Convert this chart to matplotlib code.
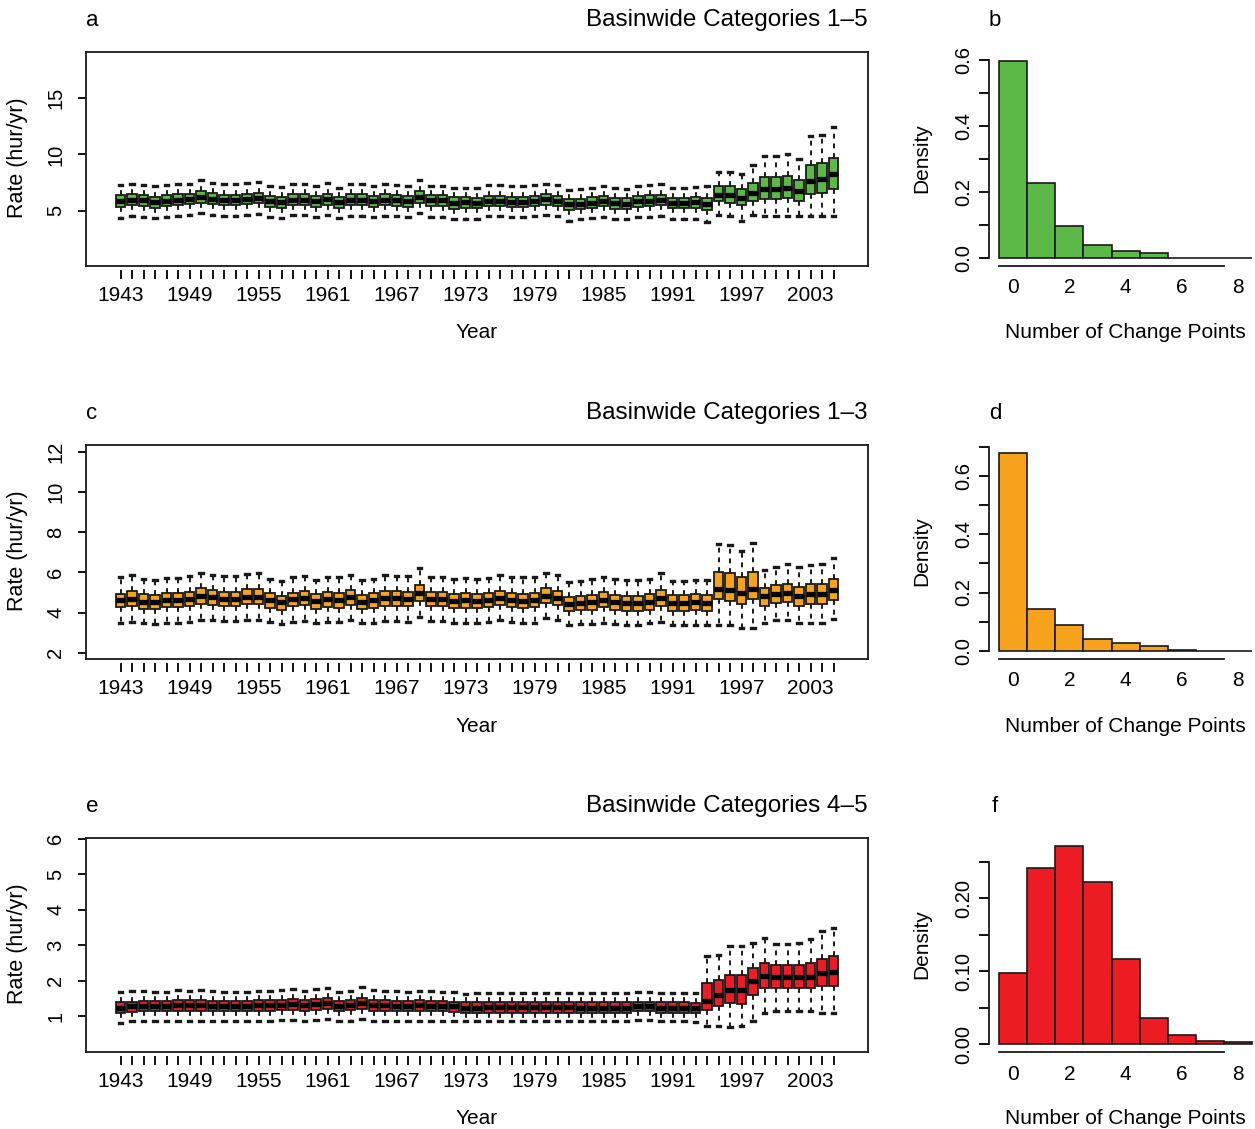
import matplotlib.pyplot as plt
import numpy as np

plt.rcParams['font.family'] = ['Liberation Sans', 'DejaVu Sans']
plt.rcParams['font.size'] = 14

# years of the box plots
years = list(range(1943, 2006))

# panel a: basinwide categories 1-5 (whisker low, q1, median, q3, whisker high)
a_lo = [4.41, 4.56, 4.50, 4.38, 4.50, 4.56, 4.62, 4.79, 4.65, 4.56, 4.56, 4.65, 4.71, 4.47, 4.41, 4.62,
        4.62, 4.44, 4.62, 4.41, 4.56, 4.56, 4.47, 4.56, 4.56, 4.47, 4.79, 4.47, 4.47, 4.26, 4.32, 4.32,
        4.56, 4.56, 4.50, 4.50, 4.56, 4.68, 4.56, 4.15, 4.26, 4.35, 4.50, 4.26, 4.26, 4.47, 4.47, 4.56,
        4.32, 4.32, 4.26, 4.03, 4.65, 4.56, 4.12, 4.62, 4.56, 4.56, 4.56, 4.56, 4.56, 4.56, 4.56]
a_q1 = [5.38, 5.53, 5.47, 5.29, 5.44, 5.50, 5.59, 5.74, 5.62, 5.50, 5.50, 5.59, 5.68, 5.38, 5.29, 5.50,
        5.50, 5.35, 5.53, 5.29, 5.50, 5.50, 5.35, 5.53, 5.47, 5.38, 5.74, 5.44, 5.44, 5.21, 5.29, 5.24,
        5.44, 5.44, 5.38, 5.38, 5.44, 5.56, 5.44, 5.09, 5.15, 5.29, 5.44, 5.21, 5.15, 5.38, 5.44, 5.50,
        5.24, 5.24, 5.29, 5.09, 5.88, 5.74, 5.53, 5.88, 6.09, 6.09, 6.12, 5.88, 6.47, 6.62, 6.91]
a_med = [5.85, 6.00, 5.94, 5.79, 5.91, 6.00, 6.06, 6.26, 6.09, 5.97, 5.97, 6.06, 6.15, 5.88, 5.79, 6.00,
         6.00, 5.85, 6.03, 5.76, 6.00, 6.00, 5.85, 6.00, 5.94, 5.85, 6.26, 5.94, 5.94, 5.74, 5.76, 5.74,
         5.85, 5.85, 5.79, 5.79, 5.88, 6.03, 5.85, 5.59, 5.62, 5.74, 5.85, 5.68, 5.62, 5.85, 5.91, 5.97,
         5.71, 5.71, 5.76, 5.62, 6.44, 6.38, 6.18, 6.56, 6.91, 6.91, 7.00, 6.76, 7.65, 7.79, 8.24]
a_q3 = [6.38, 6.47, 6.41, 6.26, 6.41, 6.47, 6.53, 6.76, 6.56, 6.44, 6.44, 6.53, 6.62, 6.35, 6.26, 6.47,
        6.47, 6.32, 6.53, 6.24, 6.47, 6.47, 6.32, 6.47, 6.41, 6.32, 6.76, 6.41, 6.41, 6.24, 6.24, 6.18,
        6.32, 6.32, 6.26, 6.26, 6.32, 6.50, 6.32, 6.09, 6.09, 6.21, 6.32, 6.15, 6.12, 6.32, 6.38, 6.44,
        6.18, 6.18, 6.26, 6.12, 7.21, 7.21, 6.91, 7.44, 8.03, 8.03, 8.09, 7.74, 9.06, 9.26, 9.71]
a_hi = [7.29, 7.41, 7.29, 7.18, 7.29, 7.38, 7.41, 7.71, 7.50, 7.35, 7.35, 7.44, 7.53, 7.24, 7.15, 7.38,
        7.38, 7.24, 7.44, 7.06, 7.38, 7.38, 7.24, 7.38, 7.32, 7.24, 7.74, 7.24, 7.24, 7.03, 7.03, 7.03,
        7.29, 7.29, 7.21, 7.21, 7.29, 7.41, 7.29, 6.85, 6.91, 7.06, 7.21, 7.00, 6.91, 7.21, 7.29, 7.35,
        7.06, 7.06, 7.15, 7.18, 8.44, 8.44, 8.26, 9.03, 9.91, 9.91, 10.00, 9.62, 11.62, 11.76, 12.44]

# panel c: basinwide categories 1-3
c_lo = [3.49, 3.54, 3.46, 3.43, 3.49, 3.49, 3.54, 3.62, 3.62, 3.59, 3.59, 3.62, 3.62, 3.51, 3.43, 3.53,
        3.58, 3.46, 3.51, 3.51, 3.62, 3.46, 3.49, 3.59, 3.58, 3.54, 3.76, 3.59, 3.59, 3.49, 3.49, 3.49,
        3.54, 3.62, 3.54, 3.49, 3.49, 3.71, 3.62, 3.38, 3.41, 3.43, 3.49, 3.43, 3.38, 3.38, 3.46, 3.54,
        3.38, 3.38, 3.38, 3.38, 3.38, 3.38, 3.21, 3.21, 3.49, 3.62, 3.62, 3.46, 3.49, 3.49, 3.67]
c_q1 = [4.29, 4.34, 4.20, 4.17, 4.29, 4.29, 4.32, 4.42, 4.37, 4.32, 4.32, 4.42, 4.42, 4.25, 4.15, 4.32,
        4.37, 4.20, 4.29, 4.25, 4.37, 4.20, 4.25, 4.34, 4.34, 4.32, 4.57, 4.34, 4.34, 4.25, 4.25, 4.24,
        4.29, 4.37, 4.29, 4.25, 4.29, 4.45, 4.37, 4.09, 4.12, 4.15, 4.29, 4.15, 4.09, 4.09, 4.15, 4.32,
        4.09, 4.09, 4.12, 4.09, 4.65, 4.59, 4.42, 4.65, 4.34, 4.49, 4.50, 4.34, 4.42, 4.42, 4.62]
c_med = [4.60, 4.65, 4.54, 4.50, 4.64, 4.64, 4.67, 4.82, 4.75, 4.67, 4.67, 4.79, 4.79, 4.60, 4.50, 4.65,
         4.74, 4.55, 4.65, 4.60, 4.75, 4.54, 4.60, 4.72, 4.72, 4.69, 4.95, 4.69, 4.69, 4.59, 4.60, 4.57,
         4.62, 4.72, 4.62, 4.59, 4.62, 4.84, 4.74, 4.44, 4.49, 4.52, 4.64, 4.52, 4.45, 4.45, 4.54, 4.72,
         4.49, 4.49, 4.52, 4.49, 5.17, 5.12, 4.95, 5.17, 4.82, 4.92, 4.95, 4.82, 4.92, 4.92, 5.12]
c_q3 = [4.92, 5.08, 4.92, 4.87, 4.98, 4.98, 5.03, 5.20, 5.12, 5.03, 5.03, 5.15, 5.15, 4.95, 4.84, 4.98,
        5.08, 4.90, 5.00, 4.95, 5.12, 4.87, 4.95, 5.08, 5.08, 5.03, 5.37, 5.03, 5.03, 4.92, 4.95, 4.92,
        4.95, 5.08, 4.95, 4.92, 4.95, 5.20, 5.08, 4.79, 4.84, 4.87, 5.00, 4.87, 4.84, 4.84, 4.92, 5.12,
        4.87, 4.87, 4.90, 4.87, 6.00, 5.95, 5.75, 6.03, 5.20, 5.37, 5.42, 5.28, 5.42, 5.42, 5.65]
c_hi = [5.78, 5.86, 5.65, 5.62, 5.73, 5.73, 5.81, 5.98, 5.86, 5.81, 5.81, 5.90, 5.95, 5.65, 5.57, 5.78,
        5.83, 5.62, 5.78, 5.75, 5.86, 5.62, 5.65, 5.86, 5.81, 5.81, 6.20, 5.78, 5.78, 5.65, 5.70, 5.65,
        5.73, 5.86, 5.78, 5.75, 5.78, 5.98, 5.86, 5.53, 5.58, 5.65, 5.78, 5.65, 5.62, 5.62, 5.65, 5.95,
        5.58, 5.58, 5.62, 5.62, 7.39, 7.36, 7.06, 7.44, 6.11, 6.28, 6.39, 6.25, 6.36, 6.39, 6.69]

# panel e: basinwide categories 4-5
e_lo = [0.81, 0.86, 0.86, 0.86, 0.86, 0.86, 0.86, 0.88, 0.86, 0.86, 0.86, 0.86, 0.88, 0.88, 0.89, 0.91,
        0.88, 0.90, 0.92, 0.86, 0.88, 0.92, 0.88, 0.86, 0.86, 0.86, 0.86, 0.86, 0.86, 0.86, 0.86, 0.86,
        0.88, 0.88, 0.88, 0.88, 0.88, 0.88, 0.88, 0.88, 0.86, 0.86, 0.86, 0.86, 0.86, 0.91, 0.91, 0.86,
        0.86, 0.86, 0.83, 0.74, 0.74, 0.70, 0.74, 0.86, 1.11, 1.14, 1.14, 1.14, 1.14, 1.11, 1.09]
e_q1 = [1.09, 1.12, 1.14, 1.14, 1.14, 1.16, 1.16, 1.16, 1.14, 1.14, 1.14, 1.14, 1.16, 1.16, 1.17, 1.19,
        1.16, 1.18, 1.21, 1.14, 1.17, 1.22, 1.16, 1.16, 1.14, 1.14, 1.16, 1.14, 1.14, 1.12, 1.10, 1.10,
        1.11, 1.11, 1.11, 1.11, 1.11, 1.11, 1.11, 1.11, 1.10, 1.10, 1.10, 1.10, 1.10, 1.14, 1.14, 1.10,
        1.10, 1.10, 1.09, 1.19, 1.28, 1.38, 1.36, 1.59, 1.80, 1.80, 1.80, 1.80, 1.80, 1.86, 1.87]
e_med = [1.25, 1.28, 1.30, 1.30, 1.30, 1.32, 1.32, 1.32, 1.30, 1.30, 1.30, 1.30, 1.32, 1.32, 1.33, 1.36,
         1.32, 1.34, 1.37, 1.30, 1.33, 1.38, 1.32, 1.32, 1.30, 1.30, 1.32, 1.30, 1.30, 1.28, 1.25, 1.25,
         1.26, 1.26, 1.26, 1.26, 1.26, 1.26, 1.26, 1.26, 1.24, 1.24, 1.24, 1.24, 1.24, 1.28, 1.28, 1.24,
         1.24, 1.24, 1.23, 1.44, 1.59, 1.75, 1.75, 2.01, 2.13, 2.11, 2.11, 2.11, 2.11, 2.22, 2.24]
e_q3 = [1.40, 1.42, 1.44, 1.44, 1.44, 1.46, 1.46, 1.46, 1.44, 1.44, 1.44, 1.44, 1.46, 1.46, 1.47, 1.50,
        1.46, 1.48, 1.51, 1.44, 1.47, 1.52, 1.46, 1.46, 1.44, 1.44, 1.46, 1.44, 1.44, 1.42, 1.40, 1.40,
        1.40, 1.40, 1.40, 1.40, 1.40, 1.40, 1.40, 1.40, 1.40, 1.40, 1.40, 1.40, 1.40, 1.42, 1.42, 1.40,
        1.40, 1.40, 1.38, 1.94, 2.03, 2.17, 2.16, 2.36, 2.50, 2.44, 2.44, 2.44, 2.49, 2.62, 2.69]
e_hi = [1.70, 1.72, 1.72, 1.70, 1.70, 1.75, 1.73, 1.75, 1.72, 1.70, 1.70, 1.70, 1.73, 1.72, 1.75, 1.78,
        1.73, 1.76, 1.80, 1.70, 1.73, 1.82, 1.75, 1.73, 1.72, 1.70, 1.73, 1.72, 1.70, 1.70, 1.64, 1.66,
        1.66, 1.66, 1.66, 1.66, 1.66, 1.66, 1.66, 1.66, 1.66, 1.66, 1.66, 1.66, 1.66, 1.70, 1.70, 1.66,
        1.66, 1.66, 1.66, 2.69, 2.74, 2.97, 2.97, 3.07, 3.21, 3.05, 3.05, 3.07, 3.18, 3.40, 3.49]

# histograms: number of change points and density
n_points = [0, 1, 2, 3, 4, 5, 6, 7, 8]
b_density = [0.597, 0.227, 0.097, 0.041, 0.022, 0.014, 0.0, 0.0, 0.0]
d_density = [0.680, 0.142, 0.089, 0.041, 0.027, 0.017, 0.003, 0.0, 0.0]
f_density = [0.098, 0.242, 0.272, 0.223, 0.117, 0.0365, 0.0128, 0.0046, 0.0027]

green = '#5CB947'
orange = '#F7A21B'
red = '#ED1C24'
edge = '#1a1a1a'

W, H = 1255, 1129
fig = plt.figure(figsize=(W / 100, H / 100), dpi=100)


def fx(px):
    return px / W


def fy(py):
    return 1 - py / H


AX_H = 214


def box_panel(top, lo, q1, med, q3, hi, color, ylim, yticks):
    ax = fig.add_axes([fx(86), fy(top + AX_H), fx(868) - fx(86), AX_H / H])
    pos = np.arange(1, len(years) + 1)
    stats = [dict(whislo=w0, q1=b1, med=m, q3=b3, whishi=w1)
             for w0, b1, m, b3, w1 in zip(lo, q1, med, q3, hi)]
    ax.bxp(stats, positions=pos, widths=0.82, showfliers=False, patch_artist=True,
           capwidths=0.34, manage_ticks=False,
           boxprops=dict(facecolor=color, edgecolor=edge, linewidth=1.3),
           medianprops=dict(color='black', linewidth=3.8, solid_capstyle='butt'),
           whiskerprops=dict(color=edge, linewidth=1.4, linestyle=(0, (2.5, 2.5))),
           capprops=dict(color=edge, linewidth=2.4))
    ax.set_xlim(-2.0, 66.0)
    ax.set_ylim(*ylim)
    ax.set_xticks([])
    ax.set_yticks(yticks)
    ax.tick_params(axis='y', length=6, width=1.3, pad=9, labelrotation=90, labelsize=14.5)
    for lab in ax.get_yticklabels():
        lab.set_va('center')
    for sp in ax.spines.values():
        sp.set_linewidth(1.3)
        sp.set_color(edge)

    # year ticks sit a little below the frame
    sec = ax.secondary_xaxis(-0.019)
    labels = [str(y) if (y - 1943) % 6 == 0 else '' for y in years]
    sec.set_xticks(pos, labels=labels)
    sec.tick_params(length=6.5, width=1.3, pad=5, labelsize=15)
    sec.spines['bottom'].set_visible(False)
    return ax


def hist_panel(top, dens, color, ylim, ytop, ystep, label_every):
    ax = fig.add_axes([fx(989), fy(top + AX_H), 1 - fx(989), AX_H / H])
    ax.bar(n_points, dens, width=1.0, color=color, edgecolor=edge, linewidth=1.2)
    ax.set_xlim(-0.86, 8.6)
    ax.set_ylim(*ylim)
    ax.spines[['top', 'right']].set_visible(False)
    ax.spines['left'].set_bounds(0, ytop)
    ax.spines['bottom'].set_bounds(-0.5, 7.5)
    for sp in ax.spines.values():
        sp.set_linewidth(1.3)
        sp.set_color(edge)
    ax.set_xticks([0, 2, 4, 6, 8])
    ax.tick_params(axis='x', length=0, pad=9, labelsize=15)
    yt = np.arange(0, ytop + ystep / 2, ystep)
    ylabels = [label_every[i] if i < len(label_every) else '' for i in range(len(yt))]
    ax.set_yticks(yt, labels=ylabels)
    ax.tick_params(axis='y', length=7, width=1.3, pad=4, labelrotation=90, labelsize=14.5)
    for lab in ax.get_yticklabels():
        lab.set_va('center')
    return ax


box_panel(52, a_lo, a_q1, a_med, a_q3, a_hi, green, (0.12, 19.08), [5, 10, 15])
box_panel(445, c_lo, c_q1, c_med, c_q3, c_hi, orange, (1.69, 12.33), [2, 4, 6, 8, 10, 12])
box_panel(838, e_lo, e_q1, e_med, e_q3, e_hi, red, (0.0, 6.02), [1, 2, 3, 4, 5, 6])

hist_panel(52, b_density, green, (-0.024, 0.624), 0.6, 0.1,
           ['0.0', '', '0.2', '', '0.4', '', '0.6'])
hist_panel(445, d_density, orange, (-0.028, 0.706), 0.7, 0.1,
           ['0.0', '', '0.2', '', '0.4', '', '0.6', ''])
hist_panel(838, f_density, red, (-0.0105, 0.2826), 0.25, 0.05,
           ['0.00', '', '0.10', '', '0.20', ''])

# panel letters and titles
titles = ['Basinwide Categories 1\u20135', 'Basinwide Categories 1\u20133', 'Basinwide Categories 4\u20135']
for i, top in enumerate([52, 445, 838]):
    fig.text(fx(92), fy(top - 32), 'ace'[i], fontsize=16, ha='center', va='center')
    fig.text(fx(995), fy(top - 32), 'bdf'[i], fontsize=16, ha='center', va='center')
    fig.text(fx(868), fy(top - 32), titles[i], fontsize=17.5, ha='right', va='center')
    fig.text(fx(477), fy(top + 281), 'Year', fontsize=15, ha='center', va='center')
    fig.text(fx(1125), fy(top + 281), 'Number of Change Points', fontsize=15,
             ha='center', va='center')
    fig.text(fx(18), fy(top + 106), 'Rate (hur/yr)', fontsize=15.5, rotation=90,
             ha='center', va='center')
    fig.text(fx(922), fy(top + 106), 'Density', fontsize=15, rotation=90,
             ha='center', va='center')

fig.savefig('out.png', dpi=100)
